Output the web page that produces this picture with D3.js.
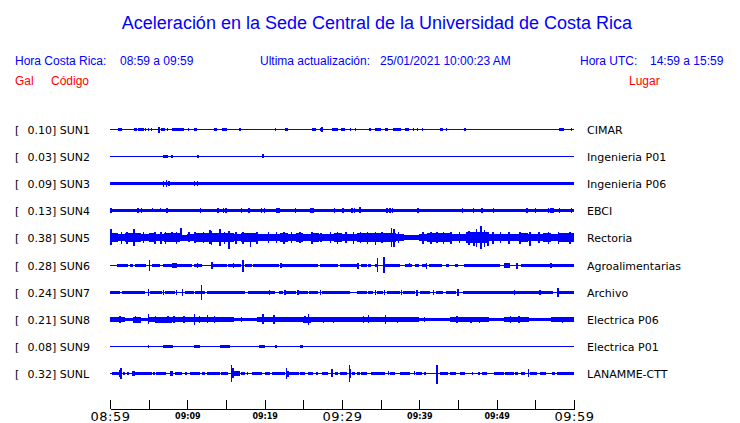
<!DOCTYPE html>
<html>
<head>
<meta charset="utf-8">
<script src="https://cdn.jsdelivr.net/npm/d3@7"></script>
<style>
  body { margin: 0; background: #fff; }
  .hdr { font-family: "Liberation Sans", Arial, sans-serif; font-size: 12px; }
  .row { font-family: "DejaVu Sans", sans-serif; font-size: 11px; fill: #000; }
</style>
</head>
<body>
<div id="chart"></div>
<script>
// stations, peak acceleration (Gal) and place names
const stations = ["SUN1", "SUN2", "SUN3", "SUN4", "SUN5", "SUN6", "SUN7", "SUN8", "SUN9", "SUNL"]
const peaks = [0.10, 0.03, 0.09, 0.13, 0.38, 0.28, 0.24, 0.21, 0.08, 0.32]
const places = ["CIMAR", "Ingenieria P01", "Ingenieria P06", "EBCI", "Rectoria",
  "Agroalimentarias", "Archivo", "Electrica P06", "Electrica P01", "LANAMME-CTT"]

// envelope pieces: [minStart, minEnd, halfAmp Gal]
// spikes: [minute, up Gal, down Gal]   (minutes after 08:59)
const bandsSUN1 = [[1.0,1.5,0.045],[2.55,2.7,0.03],[3.1,3.5,0.045],[3.66,4.4,0.045],[4.5,4.6,0.04],[4.95,5.05,0.04],
  [5.25,5.35,0.04],[5.8,5.9,0.03],[6.6,7.1,0.045],[7.35,7.45,0.04],[8.0,9.55,0.045],[10.1,10.2,0.035],[10.8,11.3,0.04],
  [12.9,13.0,0.02],[13.4,13.9,0.04],[14.5,15.1,0.045],[15.5,15.6,0.03],[16.7,17.0,0.04],[18.5,18.6,0.03],[21.3,21.4,0.035],
  [22.6,23.0,0.04],[23.3,23.4,0.03],[26.1,26.6,0.045],[27.2,27.6,0.05],[28.7,29.5,0.045],[29.9,30.4,0.045],[31.0,31.1,0.035],
  [31.7,31.8,0.035],[32.5,32.6,0.03],[33.5,33.7,0.045],[34.3,35.1,0.045],[35.6,36.0,0.04],[36.6,37.6,0.045],[38.1,38.7,0.045],
  [39.2,39.3,0.04],[39.7,39.8,0.04],[40.35,40.5,0.045],[42.7,43.0,0.045],[43.4,43.5,0.035],[44.8,44.9,0.02],[45.75,46.0,0.035],
  [47.2,47.3,0.02],[48.4,48.5,0.02],[49.6,49.7,0.02],[53.9,54.0,0.025],[56.6,56.7,0.02],[58.0,58.7,0.04],[59.65,59.8,0.04]]
const spikesSUN1 = [[6.35,0.10,0.11],[27.4,0.08,0.07]]

const bandsSUN2 = [[6.9,7.5,0.055],[7.9,8.2,0.05],[10.85,10.95,0.03]]
const spikesSUN2 = [[7.3,0.06,0.06],[11.4,0.045,0.04],[15.3,0.025,0.02],[19.8,0.07,0.06]]

const bandsSUN3 = [[0,2.8,0.065],[2.8,4.7,0.05],[4.7,18.0,0.065],[18.0,18.2,0.04],[18.2,20.9,0.065],[20.9,21.2,0.04],
  [21.2,32.6,0.065],[32.6,32.8,0.045],[32.8,35.2,0.065],[35.2,35.4,0.045],[35.4,43.5,0.065],[43.5,43.9,0.045],
  [43.9,50.0,0.065],[50.0,50.2,0.045],[50.2,60,0.065]]
const spikesSUN3 = [[6.9,0.10,0.10],[7.3,0.115,0.11],[7.65,0.08,0.08],[10.9,0.10,0.09],[11.3,0.07,0.07]]

const bandsSUN4 = [[0,60,0.055],[21.5,22.0,0.075],[25.9,26.3,0.075]]
const spikesSUN4 = [[0.1,0.075,0.075],[3.6,0.07,0.07],[4.1,0.07,0.07],[5.5,0.07,0.06],[6.5,0.07,0.06],[7.4,0.09,0.09],
  [11.7,0.075,0.07],[13.95,0.08,0.08],[14.7,0.07,0.07],[15.0,0.07,0.07],[17.0,0.07,0.07],[18.0,0.07,0.07],[19.6,0.07,0.07],
  [20.0,0.07,0.07],[21.6,0.09,0.085],[21.9,0.08,0.08],[24.0,0.07,0.07],[26.0,0.085,0.085],[26.3,0.08,0.08],[29.0,0.07,0.07],
  [30.1,0.07,0.07],[31.3,0.09,0.08],[31.6,0.10,0.09],[32.3,0.12,0.08],[35.8,0.08,0.07],[36.2,0.08,0.07],[36.5,0.08,0.07],
  [39.8,0.075,0.07],[42.0,0.06,0.06],[45.6,0.07,0.07],[47.0,0.10,0.08],[48.1,0.07,0.07],[49.6,0.07,0.07],[53.9,0.07,0.09],
  [55.0,0.07,0.07],[56.7,0.10,0.08],[57.0,0.09,0.08],[57.3,0.08,0.07],[58.1,0.07,0.07],[59.7,0.09,0.08]]

// per-minute noise level for the two busy records
const levelsSUN5 = [0.15,0.13,0.14,0.16,0.13,0.14,0.12,0.15,0.14,0.10,0.12,0.14,0.15,0.16,0.15,0.14,0.13,0.15,0.14,0.13,
  0.11,0.12,0.14,0.12,0.14,0.13,0.14,0.12,0.13,0.14,0.13,0.12,0.14,0.15,0.14,0.15,0.16,0.12,0.07,0.07,
  0.13,0.14,0.15,0.14,0.12,0.13,0.17,0.19,0.17,0.13,0.12,0.11,0.13,0.14,0.13,0.12,0.14,0.12,0.14,0.14]
const spikesSUN5 = [[0.1,0.27,0.25],[1.5,0.20,0.20],[2.2,0.20,0.22],[3.1,0.27,0.29],[4.3,0.20,0.18],[5.8,0.18,0.20],
  [6.6,0.20,0.22],[7.2,0.17,0.20],[8.0,0.19,0.16],[8.6,0.18,0.20],[9.2,0.33,0.10],[10.2,0.17,0.15],[11.0,0.18,0.18],
  [12.1,0.20,0.17],[12.9,0.24,0.20],[13.1,0.22,0.24],[14.2,0.27,0.27],[14.8,0.20,0.20],[15.4,0.22,0.38],[16.3,0.20,0.20],
  [17.2,0.18,0.22],[18.2,0.15,0.30],[19.0,0.20,0.20],[20.5,0.18,0.18],[21.5,0.19,0.19],[22.5,0.17,0.20],[23.5,0.20,0.18],
  [24.6,0.17,0.17],[26.1,0.17,0.20],[27.3,0.16,0.16],[28.5,0.20,0.18],[29.4,0.17,0.20],[30.5,0.18,0.17],[31.5,0.17,0.20],
  [32.4,0.20,0.18],[33.3,0.18,0.20],[34.3,0.20,0.25],[35.2,0.20,0.18],[36.4,0.33,0.30],[36.7,0.27,0.30],[37.3,0.18,0.18],
  [40.5,0.19,0.20],[41.5,0.20,0.22],[42.3,0.20,0.17],[43.1,0.18,0.20],[44.1,0.17,0.20],[45.2,0.18,0.18],[46.4,0.22,0.25],
  [47.1,0.20,0.28],[47.4,0.30,0.30],[48.0,0.38,0.37],[48.4,0.25,0.30],[48.9,0.20,0.27],[49.5,0.18,0.20],[50.5,0.17,0.18],
  [51.6,0.18,0.20],[53.0,0.20,0.20],[54.3,0.17,0.27],[55.5,0.18,0.17],[56.7,0.20,0.20],[58.0,0.17,0.20],[59.5,0.20,0.22]]

const bandsSUN6 = [[0.86,2.37,0.055],[2.6,3.0,0.05],[3.2,4.7,0.055],[5.4,6.5,0.055],[6.9,10.6,0.055],[8.0,8.6,0.075],
  [10.8,11.9,0.055],[13.1,15.1,0.055],[15.3,17.0,0.055],[17.5,18.3,0.055],[18.5,21.8,0.055],[22.0,22.2,0.07],[22.2,26.9,0.055],
  [27.2,29.5,0.055],[29.7,31.9,0.05],[32.5,33.2,0.05],[33.4,33.8,0.05],[34.3,34.7,0.055],[35.6,37.5,0.055],[38.2,39.0,0.055],
  [39.4,39.9,0.055],[40.3,41.0,0.055],[41.2,42.9,0.055],[43.5,43.9,0.05],[44.6,45.0,0.05],[45.8,50.4,0.055],[50.9,51.7,0.07],
  [53.2,60,0.055]]
const spikesSUN6 = [[4.5,0.06,0.06],[5.1,0.17,0.17],[8.2,0.07,0.06],[11.3,0.07,0.07],[13.2,0.12,0.12],[16.0,0.08,0.07],
  [17.2,0.20,0.21],[22.1,0.07,0.07],[32.1,0.09,0.10],[34.6,0.25,0.23],[35.4,0.28,0.25],[36.8,0.06,0.06],[38.7,0.07,0.06],
  [40.9,0.07,0.10],[52.6,0.10,0.10],[57.0,0.08,0.09]]

const bandsSUN7 = [[0,1.3,0.055],[1.6,4.5,0.055],[5.2,6.7,0.055],[7.1,8.4,0.055],[9.7,10.8,0.055],[11.0,12.3,0.055],
  [12.5,17.5,0.055],[17.9,20.5,0.055],[20.7,21.3,0.055],[21.8,22.4,0.055],[22.8,24.1,0.055],[24.4,25.6,0.055],[25.7,26.9,0.055],
  [27.4,31.0,0.055],[31.9,33.2,0.055],[33.4,34.0,0.055],[34.5,35.3,0.055],[35.8,37.5,0.055],[37.9,39.4,0.055],[40.1,41.4,0.055],
  [42.2,43.1,0.055],[43.5,44.8,0.055],[45.7,57.3,0.055],[58.0,60,0.055]]
const spikesSUN7 = [[5.0,0.13,0.13],[6.9,0.10,0.09],[8.6,0.08,0.07],[9.4,0.12,0.12],[11.8,0.24,0.24],[20.6,0.07,0.07],
  [22.6,0.08,0.08],[24.3,0.08,0.07],[27.2,0.09,0.08],[34.3,0.07,0.07],[35.5,0.07,0.07],[37.7,0.08,0.07],[39.7,0.10,0.10],
  [41.8,0.07,0.07],[45.0,0.12,0.11],[52.3,0.07,0.07],[55.6,0.08,0.08],[57.9,0.15,0.14]]

const levelsSUN8 = [0.07,0.09,0.055,0.10,0.06,0.08,0.10,0.10,0.09,0.08,0.07,0.09,0.09,0.08,0.08,0.08,0.06,0.055,0.055,0.09,
  0.08,0.09,0.08,0.07,0.08,0.10,0.08,0.07,0.08,0.07,0.07,0.07,0.08,0.09,0.08,0.07,0.08,0.09,0.07,0.07,
  0.06,0.055,0.055,0.055,0.07,0.08,0.08,0.07,0.07,0.055,0.06,0.07,0.08,0.07,0.06,0.055,0.06,0.08,0.08,0.08]
const spikesSUN8 = [[1.3,0.12,0.12],[3.3,0.13,0.12],[5.0,0.18,0.15],[5.9,0.12,0.11],[7.5,0.12,0.12],[8.3,0.12,0.12],
  [9.6,0.12,0.12],[10.9,0.17,0.19],[11.6,0.12,0.11],[12.6,0.15,0.13],[13.5,0.11,0.12],[17.0,0.09,0.09],[19.8,0.18,0.16],
  [21.2,0.14,0.16],[25.2,0.13,0.13],[25.7,0.18,0.19],[27.6,0.10,0.10],[28.9,0.10,0.10],[32.8,0.12,0.12],[33.4,0.14,0.13],
  [35.6,0.14,0.15],[37.2,0.10,0.10],[40.7,0.08,0.08],[44.9,0.12,0.12],[46.7,0.10,0.11],[47.8,0.10,0.11],[51.8,0.11,0.12],
  [52.9,0.11,0.11],[54.1,0.08,0.08],[58.5,0.10,0.10]]

const bandsSUN9 = [[4.85,5.0,0.045],[5.8,6.2,0.03],[6.9,8.2,0.04],[10.9,11.6,0.055],[14.2,15.5,0.045],[19.3,20.1,0.055],
  [21.3,21.6,0.04],[24.6,25.0,0.04]]
const spikesSUN9 = [[2.3,0.025,0.02],[3.4,0.02,0.02],[3.9,0.03,0.02],[9.3,0.02,0.02],[10.1,0.02,0.02],[11.3,0.065,0.065],
  [12.5,0.02,0.02],[13.6,0.02,0.02],[15.7,0.03,0.03],[24.0,0.02,0.02],[25.4,0.02,0.02],[26.1,0.02,0.02],[27.0,0.02,0.02],
  [33.6,0.0,0.03],[36.1,0.03,0.0],[50.7,0.03,0.03]]

const bandsSUNL = [[0.2,1.1,0.055],[1.7,1.9,0.055],[2.15,2.4,0.055],[2.8,3.2,0.07],[3.2,5.4,0.055],[5.6,5.8,0.055],
  [6.0,7.3,0.055],[7.8,8.2,0.07],[8.4,9.3,0.055],[9.7,9.9,0.055],[10.3,11.6,0.055],[11.9,12.3,0.055],[12.5,14.2,0.055],
  [14.4,15.3,0.055],[16.0,16.8,0.07],[17.0,17.5,0.055],[17.7,17.9,0.055],[18.3,19.6,0.055],[20.0,20.7,0.065],[20.9,22.6,0.055],
  [23.1,24.4,0.055],[24.6,25.2,0.055],[25.6,26.3,0.055],[26.7,26.9,0.055],[27.4,28.2,0.055],[29.1,29.5,0.055],[29.7,30.6,0.055],
  [31.3,31.7,0.055],[31.9,32.3,0.055],[32.5,33.2,0.055],[33.8,35.6,0.055],[36.2,36.9,0.055],[37.5,38.8,0.055],[39.6,40.3,0.055],
  [40.6,40.8,0.055],[42.7,43.7,0.055],[44.0,44.8,0.055],[45.3,45.9,0.055],[46.8,47.0,0.055],[47.6,47.8,0.055],[48.1,48.7,0.055],
  [49.6,50.9,0.055],[51.1,52.2,0.055],[52.4,52.8,0.055],[53.2,53.7,0.055],[54.3,55.2,0.055],[55.6,56.4,0.055],[57.1,57.6,0.055],
  [57.8,60,0.055]]
const spikesSUNL = [[1.3,0.12,0.10],[1.4,0.17,0.18],[3.0,0.07,0.07],[8.0,0.07,0.06],[15.7,0.28,0.27],[15.9,0.20,0.15],
  [16.4,0.07,0.07],[20.3,0.065,0.065],[22.8,0.19,0.17],[23.0,0.10,0.10],[28.7,0.15,0.12],[30.95,0.29,0.28],[31.1,0.15,0.15],
  [36.0,0.07,0.06],[39.4,0.07,0.06],[42.3,0.30,0.36],[44.5,0.06,0.06],[48.4,0.06,0.06],[54.1,0.15,0.12]]

// build band lists for the busy records from their per-minute levels
const bandsSUN5 = levelsSUN5.map((v, i) => [i, i + 1, v])
const bandsSUN8 = levelsSUN8.map((v, i) => [i, i + 1, v])

const records = {
  SUN1: [bandsSUN1, spikesSUN1], SUN2: [bandsSUN2, spikesSUN2], SUN3: [bandsSUN3, spikesSUN3],
  SUN4: [bandsSUN4, spikesSUN4], SUN5: [bandsSUN5, spikesSUN5], SUN6: [bandsSUN6, spikesSUN6],
  SUN7: [bandsSUN7, spikesSUN7], SUN8: [bandsSUN8, spikesSUN8], SUN9: [bandsSUN9, spikesSUN9],
  SUNL: [bandsSUNL, spikesSUNL]
}

const WIDTH = 740
const HEIGHT = 423
const BLUE = "#0000ff"
const RED = "#ff0000"

const svg = d3.select("#chart").append("svg")
  .attr("width", WIDTH)
  .attr("height", HEIGHT)

// header
svg.append("text")
  .attr("x", 377).attr("y", 29)
  .attr("text-anchor", "middle")
  .attr("font-family", "Liberation Sans, Arial, sans-serif")
  .attr("font-size", 18)
  .attr("fill", BLUE)
  .text("Aceleración en la Sede Central de la Universidad de Costa Rica")

const hdr = [
  [15, 65, "Hora Costa Rica:", BLUE], [120, 65, "08:59 a 09:59", BLUE],
  [260, 65, "Ultima actualización:", BLUE], [380, 65, "25/01/2021 10:00:23 AM", BLUE],
  [580, 65, "Hora UTC:", BLUE], [650, 65, "14:59 a 15:59", BLUE],
  [15, 85, "Gal", RED], [51, 85, "Código", RED], [629, 85, "Lugar", RED]
]
svg.selectAll(".hdr").data(hdr).enter().append("text")
  .attr("class", "hdr")
  .attr("x", d => d[0]).attr("y", d => d[1])
  .attr("fill", d => d[3])
  .text(d => d[2])

// scales
const t0 = new Date(2021, 0, 25, 8, 59)
const t1 = new Date(2021, 0, 25, 9, 59)
const atMin = m => new Date(+t0 + m * 60000)

const x = d3.scaleTime().domain([t0, t1]).range([110, 574])
const y = d3.scalePoint().domain(stations).range([129, 373])
const amp = d3.scaleLinear().domain([0, 0.4]).range([0, 12])

// rows
const rows = svg.selectAll(".trace").data(stations).enter().append("g")
  .attr("class", "trace")
  .attr("transform", d => `translate(0, ${Math.round(y(d))})`)

rows.append("text").attr("class", "row").attr("x", 15).attr("y", 5).text("[")
rows.append("text").attr("class", "row").attr("x", 27.5).attr("y", 5)
  .text((d, i) => `${peaks[i].toFixed(2)}] ${d}`)
rows.append("text").attr("class", "row").attr("x", 587).attr("y", 5)
  .text((d, i) => places[i])

rows.append("line")
  .attr("x1", x(t0)).attr("x2", x(t1))
  .attr("y1", 0.5).attr("y2", 0.5)
  .attr("stroke", BLUE).attr("stroke-width", 1)
  .attr("shape-rendering", "crispEdges")

rows.each(function(s) {
  const g = d3.select(this)
  const [bands, spikes] = records[s]

  g.selectAll(".band").data(bands).enter().append("rect")
    .attr("class", "band")
    .attr("x", d => x(atMin(d[0])))
    .attr("width", d => Math.max(1, x(atMin(d[1])) - x(atMin(d[0]))))
    .attr("y", d => 0.5 - amp(d[2]))
    .attr("height", d => 2 * amp(d[2]))
    .attr("fill", BLUE)
    .attr("shape-rendering", "crispEdges")

  g.selectAll(".spike").data(spikes).enter().append("rect")
    .attr("class", "spike")
    .attr("x", d => x(atMin(d[0])) - 0.75)
    .attr("width", 1.5)
    .attr("y", d => 0.5 - amp(d[1]))
    .attr("height", d => amp(d[1]) + amp(d[2]))
    .attr("fill", BLUE)
    .attr("shape-rendering", "crispEdges")
})

// time axis
const tickMins = d3.range(0, 61, 5)
const bigMins = [0, 30, 60]
const xAxis = d3.axisBottom(x)
  .tickValues(tickMins.map(atMin))
  .tickSizeInner(-9)
  .tickSizeOuter(0)
  .tickFormat((d, i) => tickMins[i] % 10 === 0 ? d3.timeFormat("%H:%M")(d) : "")

const axisG = svg.append("g")
  .attr("transform", "translate(0, 409)")
  .call(xAxis)

axisG.select(".domain").attr("stroke", "#000").attr("shape-rendering", "crispEdges")
axisG.selectAll(".tick line").attr("stroke", "#000").attr("shape-rendering", "crispEdges")
axisG.selectAll(".tick text")
  .attr("fill", "#000")
  .attr("y", 7)
  .attr("dy", "0.36em")
  .attr("font-family", "DejaVu Sans, sans-serif")
  .attr("font-size", (d, i) => bigMins.includes(tickMins[i]) ? 13 : 8)
  .attr("font-weight", (d, i) => bigMins.includes(tickMins[i]) ? "normal" : "bold")
  .attr("letter-spacing", (d, i) => bigMins.includes(tickMins[i]) ? "0.5px" : "0")
</script>
</body>
</html>
